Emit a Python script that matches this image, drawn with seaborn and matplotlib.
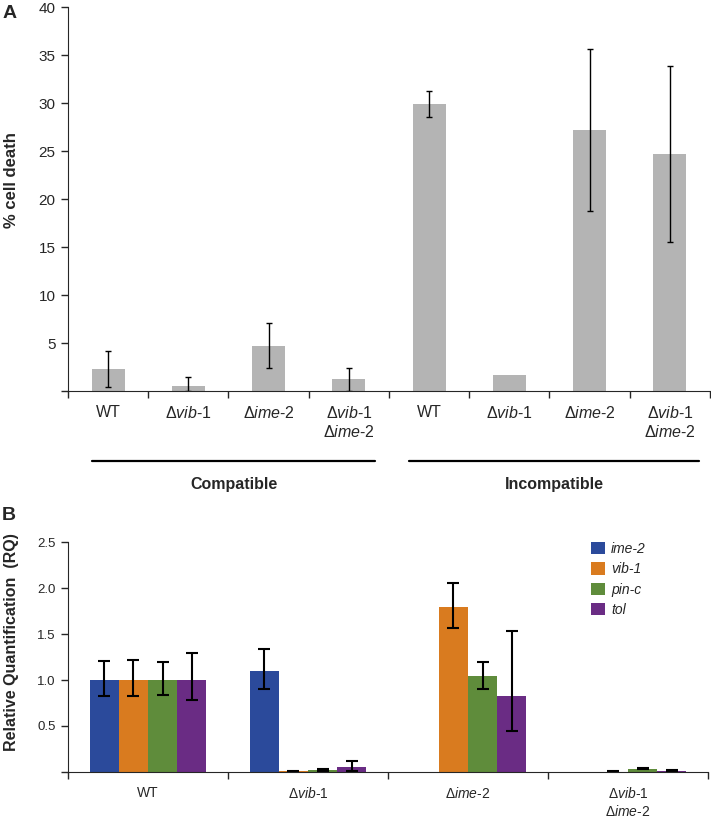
import numpy as np
import pandas as pd
import matplotlib
matplotlib.use("Agg")
import matplotlib.pyplot as plt
import matplotlib.transforms as mtransforms
import seaborn as sns

# --- Panel A: % cell death ---
samples_a = ["C_WT", "C_vib", "C_ime", "C_dbl", "I_WT", "I_vib", "I_ime", "I_dbl"]
labels_a = ["WT", "Δ$\\mathit{vib}$-$\\mathit{1}$", "Δ$\\mathit{ime}$-$\\mathit{2}$",
            "Δ$\\mathit{vib}$-$\\mathit{1}$\nΔ$\\mathit{ime}$-$\\mathit{2}$"] * 2
death_a = [2.3, 0.56, 4.72, 1.25, 29.9, 1.67, 27.2, 24.7]
death_lo = [0.4, 0.0, 2.4, 0.07, 28.6, np.nan, 18.8, 15.6]
death_hi = [4.2, 1.46, 7.12, 2.4, 31.3, np.nan, 35.7, 33.9]
groups_a = ["Compatible", "Incompatible"]

# --- Panel B: relative quantification ---
strains_b = ["WT", "Δ$\\mathit{vib}$-$\\mathit{1}$", "Δ$\\mathit{ime}$-$\\mathit{2}$",
             "Δ$\\mathit{vib}$-$\\mathit{1}$\nΔ$\\mathit{ime}$-$\\mathit{2}$"]
genes_b = ["ime-2", "vib-1", "pin-c", "tol"]
rq_ime2 = [1.0, 1.10, 0.0, 0.0]
rq_vib1 = [1.0, 0.006, 1.79, 0.003]
rq_pinc = [1.0, 0.022, 1.04, 0.036]
rq_tol = [1.0, 0.058, 0.83, 0.012]
lo_ime2 = [0.83, 0.90, np.nan, np.nan]
hi_ime2 = [1.21, 1.34, np.nan, np.nan]
lo_vib1 = [0.83, 0.003, 1.57, 0.001]
hi_vib1 = [1.22, 0.010, 2.05, 0.006]
lo_pinc = [0.84, 0.012, 0.90, 0.030]
hi_pinc = [1.20, 0.034, 1.20, 0.043]
lo_tol = [0.78, 0.015, 0.45, 0.008]
hi_tol = [1.29, 0.12, 1.53, 0.017]
gene_colors = ["#2b4a9b", "#d97b1f", "#5f8c3b", "#6a2c84"]

sns.set_style("ticks")
plt.rcParams["font.family"] = ["Liberation Sans", "DejaVu Sans"]
plt.rcParams["mathtext.fontset"] = "custom"
plt.rcParams["mathtext.rm"] = "Liberation Sans"
plt.rcParams["mathtext.it"] = "Liberation Sans:italic"
plt.rcParams["mathtext.bf"] = "Liberation Sans:bold"

fig = plt.figure(figsize=(7.11, 8.21), dpi=100)
ax_a = fig.add_axes([0.0956, 0.5234, 0.903, 0.4677])
ax_b = fig.add_axes([0.0956, 0.0597, 0.9001, 0.2801])

# === Panel A ===
df_a = pd.DataFrame({"sample": samples_a, "death": death_a})
sns.barplot(data=df_a, x="sample", y="death", color="#b4b4b4", saturation=1,
            width=0.41, errorbar=None, linewidth=0, ax=ax_a)
d = np.array(death_a)
lo = np.array(death_lo)
hi = np.array(death_hi)
ok = ~np.isnan(lo)
xpos = np.arange(len(samples_a))
ax_a.errorbar(xpos[ok], d[ok], yerr=[d[ok] - lo[ok], hi[ok] - d[ok]], fmt="none",
              ecolor="black", elinewidth=1, capsize=2.5, capthick=1)

ax_a.set_xlim(-0.5, len(samples_a) - 0.5)
ax_a.set_ylim(0, 40)
ax_a.set_yticks(np.arange(0, 41, 5))
ax_a.set_yticklabels([""] + [str(v) for v in range(5, 41, 5)])
ax_a.set_xticks(xpos)
ax_a.set_xticklabels(labels_a, fontsize=11.5, linespacing=1.2, va="top")
ax_a.set_xticks(np.arange(-0.5, len(samples_a)), minor=True)
ax_a.tick_params(axis="x", which="major", length=0, pad=10)
ax_a.tick_params(axis="x", which="minor", length=5, width=1, direction="out")
ax_a.tick_params(axis="y", length=5, width=1, labelsize=11, pad=4)
ax_a.set_xlabel("")
ax_a.set_ylabel("% cell death", fontsize=12, fontweight="bold")
ax_a.yaxis.set_label_coords(-0.077, 0.55)
sns.despine(ax=ax_a)

# group lines under the labels
trans = mtransforms.blended_transform_factory(ax_a.transData, ax_a.transAxes)
for (x0, x1), name in zip([(-0.2, 3.33), (3.75, 7.36)], groups_a):
    ax_a.plot([x0, x1], [-0.1815, -0.1815], color="black", lw=1.6,
              transform=trans, clip_on=False)
    ax_a.text((x0 + x1) / 2, -0.244, name, transform=trans, ha="center", va="center",
              fontsize=11.5, fontweight="bold")
fig.text(0.014, 0.984, "A", fontsize=14, fontweight="bold", va="center", ha="center")

# === Panel B ===
rows = []
vals = [rq_ime2, rq_vib1, rq_pinc, rq_tol]
los = [lo_ime2, lo_vib1, lo_pinc, lo_tol]
his = [hi_ime2, hi_vib1, hi_pinc, hi_tol]
for g, gv in zip(genes_b, vals):
    for s, v in zip(strains_b, gv):
        rows.append({"strain": s, "gene": g, "rq": v})
df_b = pd.DataFrame(rows)
sns.barplot(data=df_b, x="strain", y="rq", hue="gene", hue_order=genes_b,
            palette=gene_colors, saturation=1, width=0.73, errorbar=None,
            linewidth=0, ax=ax_b)

for cont, gv, gl, gh in zip(ax_b.containers, vals, los, his):
    for bar, v, l, h in zip(cont, gv, gl, gh):
        if np.isnan(l):
            continue
        xc = bar.get_x() + bar.get_width() / 2
        ax_b.errorbar([xc], [v], yerr=[[v - l], [h - v]], fmt="none", ecolor="black",
                      elinewidth=1.5, capsize=4.5, capthick=1.5)

ax_b.set_xlim(-0.5, len(strains_b) - 0.5)
ax_b.set_ylim(0, 2.5)
ax_b.set_yticks(np.arange(0, 2.51, 0.5))
ax_b.set_yticklabels([""] + ["%.1f" % v for v in np.arange(0.5, 2.51, 0.5)])
ax_b.set_xticks(np.arange(len(strains_b)))
ax_b.set_xticklabels(strains_b, fontsize=10, linespacing=1.3, va="top")
ax_b.set_xticks(np.arange(-0.5, len(strains_b)), minor=True)
ax_b.tick_params(axis="x", which="major", length=0, pad=10)
ax_b.tick_params(axis="x", which="minor", length=5, width=1, direction="out")
ax_b.tick_params(axis="y", length=5, width=1, labelsize=9.5, pad=4)
ax_b.set_xlabel("")
ax_b.set_ylabel("Relative Quantification  (RQ)", fontsize=11.5, fontweight="bold")
ax_b.yaxis.set_label_coords(-0.077, 0.565)
sns.despine(ax=ax_b)

handles, _ = ax_b.get_legend_handles_labels()
ax_b.legend(handles, genes_b, loc="upper left", bbox_to_anchor=(0.818, 1.0),
            frameon=False, handlelength=1.0, handleheight=1.0, handletextpad=0.4,
            labelspacing=0.45, borderaxespad=0, borderpad=0,
            prop={"style": "italic", "size": 10})
fig.text(0.012, 0.372, "B", fontsize=14, fontweight="bold", va="center", ha="center")

plt.savefig("out.png", dpi=100)
